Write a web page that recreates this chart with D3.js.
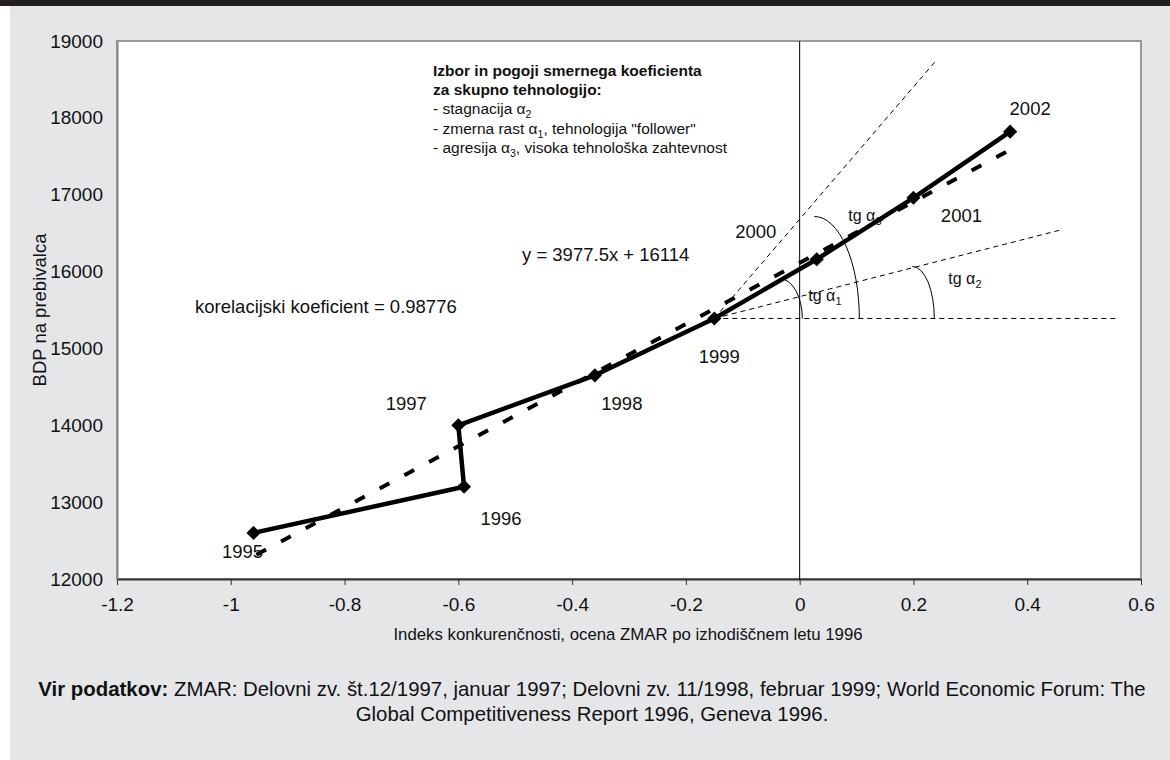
<!DOCTYPE html>
<html lang="sl">
<head>
<meta charset="UTF-8">
<title>BDP na prebivalca in indeks konkurenčnosti</title>
<script src="https://d3js.org/d3.v7.min.js"></script>
<style>
  body { margin: 0; background: #fff; font-family: "Liberation Sans", Arial, sans-serif; }
  svg { display: block; font-family: "Liberation Sans", Arial, sans-serif; }
  .axis text { font-family: "Liberation Sans", Arial, sans-serif; font-size: 19px; fill: #111; }
  .lbl { font-size: 18.5px; fill: #111; }
  .note { font-size: 15.5px; fill: #111; }
  .tg { font-size: 16px; fill: #111; }
</style>
</head>
<body>
<svg id="chart" width="1170" height="760"></svg>
<script>
// data
const years = [1995, 1996, 1997, 1998, 1999, 2000, 2001, 2002];
const indexValues = [-0.96, -0.59, -0.60, -0.36, -0.15, 0.03, 0.20, 0.37];
const gdpValues = [12600, 13200, 14000, 14650, 15390, 16160, 16960, 17820];
const xTicks = [-1.2, -1, -0.8, -0.6, -0.4, -0.2, 0, 0.2, 0.4, 0.6];
const yTicks = [12000, 13000, 14000, 15000, 16000, 17000, 18000, 19000];
const trendSlope = 3977.5, trendIntercept = 16114;
const trendRange = [-0.955, 0.375];
// guide lines from 1999: end points in data units
const guideEnds = [[0.56, 15390], [0.458, 16540], [0.238, 18730]];

const points = years.map((yr, i) => ({ year: yr, x: indexValues[i], y: gdpValues[i] }));

const svg = d3.select("#chart");
const W = 1170, H = 760;

// page background
svg.append("rect").attr("width", W).attr("height", H).attr("fill", "#fff");
svg.append("rect").attr("x", 10).attr("y", 0).attr("width", W - 10).attr("height", H).attr("fill", "#e5e6e8");
svg.append("rect").attr("x", 0).attr("y", 0).attr("width", W).attr("height", 6).attr("fill", "#231f20");

const x = d3.scaleLinear().domain([-1.2, 0.6]).range([117, 1141]);
const y = d3.scaleLinear().domain([12000, 19000]).range([579, 41]);

// plot area
svg.append("rect")
  .attr("x", x(-1.2)).attr("y", y(19000))
  .attr("width", x(0.6) - x(-1.2)).attr("height", y(12000) - y(19000))
  .attr("fill", "#fff").attr("stroke", "#9a9a9a").attr("stroke-width", 2);

// axes
const xAxis = svg.append("g").attr("class", "axis")
  .attr("transform", `translate(0,${y(12000)})`)
  .call(d3.axisBottom(x).tickValues(xTicks).tickFormat(d => String(d)).tickSize(6).tickPadding(13).tickSizeOuter(0));
xAxis.select(".domain").attr("stroke", "#333").attr("stroke-width", 2);
xAxis.selectAll(".tick line").attr("stroke", "#333");

const yAxis = svg.append("g").attr("class", "axis")
  .attr("transform", `translate(${x(-1.2)},0)`)
  .call(d3.axisLeft(y).tickValues(yTicks).tickFormat(d => String(d)).tickSize(0).tickPadding(14));
yAxis.select(".domain").attr("stroke", "#888").attr("stroke-width", 2);

// zero line
svg.append("line")
  .attr("x1", x(0)).attr("x2", x(0)).attr("y1", y(19000)).attr("y2", y(12000))
  .attr("stroke", "#000").attr("stroke-width", 1);

// axis titles
svg.append("text").attr("class", "lbl")
  .attr("transform", `translate(46,310) rotate(-90)`)
  .attr("text-anchor", "middle").text("BDP na prebivalca");
svg.append("text").attr("class", "lbl")
  .attr("x", 628).attr("y", 640).attr("text-anchor", "middle")
  .style("font-size", "16.8px")
  .text("Indeks konkurenčnosti, ocena ZMAR po izhodiščnem letu 1996");

// guide lines from 1999
const p99 = points[4];
const g = svg.append("g");
guideEnds.forEach(e => {
  g.append("line")
    .attr("x1", x(p99.x)).attr("y1", y(p99.y))
    .attr("x2", x(e[0])).attr("y2", y(e[1]))
    .attr("stroke", "#000").attr("stroke-width", 1).attr("stroke-dasharray", "5,4");
});

// angle arcs (quarter ellipses: offset of centre from 1999, rx, ry)
const arcs = [[65, 23, 40], [100, 45, 102], [198, 22, 52]];
arcs.forEach(a => {
  const cx = x(p99.x) + a[0], cy = y(p99.y);
  g.append("path")
    .attr("d", `M${cx},${cy - a[2]} A${a[1]},${a[2]} 0 0 1 ${cx + a[1]},${cy}`)
    .attr("fill", "none").attr("stroke", "#000").attr("stroke-width", 1);
});

// trend line
const trend = trendRange.map(v => ({ x: v, y: trendSlope * v + trendIntercept }));
svg.append("path")
  .datum(trend)
  .attr("d", d3.line().x(d => x(d.x)).y(d => y(d.y)))
  .attr("fill", "none").attr("stroke", "#000").attr("stroke-width", 4)
  .attr("stroke-dasharray", "11,17");

// data line
svg.append("path")
  .datum(points)
  .attr("d", d3.line().x(d => x(d.x)).y(d => y(d.y)))
  .attr("fill", "none").attr("stroke", "#000").attr("stroke-width", 4.5)
  .attr("stroke-linejoin", "round");

svg.selectAll(".mk").data(points).enter().append("path")
  .attr("class", "mk")
  .attr("transform", d => `translate(${x(d.x)},${y(d.y)}) rotate(45)`)
  .attr("d", d3.symbol(d3.symbolSquare, 100))
  .attr("fill", "#000");

// year labels
const labelOffset = {
  1995: [-11, 25], 1996: [37, 38], 1997: [-52, -15], 1998: [27, 35],
  1999: [5, 45], 2000: [-61, -21], 2001: [48, 24], 2002: [20, -17]
};
svg.selectAll(".yr").data(points).enter().append("text")
  .attr("class", "lbl")
  .attr("x", d => x(d.x) + labelOffset[d.year][0])
  .attr("y", d => y(d.y) + labelOffset[d.year][1])
  .attr("text-anchor", "middle")
  .text(d => d.year);

// tg alpha labels
function tgLabel(px, py, sub) {
  const t = svg.append("text").attr("class", "tg").attr("x", px).attr("y", py);
  t.append("tspan").text("tg α");
  t.append("tspan").attr("font-size", "11px").attr("dy", 4).text(sub);
}
tgLabel(x(p99.x) + 94, y(p99.y) - 17, "1");
tgLabel(x(p99.x) + 134, y(p99.y) - 97, "3");
tgLabel(x(p99.x) + 234, y(p99.y) - 34, "2");

// equation and correlation
svg.append("text").attr("class", "lbl").attr("x", 522).attr("y", 261)
  .text(`y = ${trendSlope}x + ${trendIntercept}`);
svg.append("text").attr("class", "lbl").attr("x", 195).attr("y", 313)
  .text("korelacijski koeficient = 0.98776");

// note box
const noteLines = [
  { t: "Izbor in pogoji smernega koeficienta", b: true },
  { t: "za skupno tehnologijo:", b: true },
  { t: "- stagnacija α", sub: "2", rest: "" },
  { t: "- zmerna rast  α", sub: "1", rest: ", tehnologija \"follower\"" },
  { t: "- agresija α", sub: "3", rest: ", visoka tehnološka zahtevnost" }
];
noteLines.forEach((l, i) => {
  const t = svg.append("text").attr("class", "note")
    .attr("x", 433).attr("y", 76 + i * 19.2)
    .attr("font-weight", l.b ? "bold" : null);
  t.append("tspan").text(l.t);
  if (l.sub) {
    t.append("tspan").attr("font-size", "10.5px").attr("dy", 4).text(l.sub);
    t.append("tspan").attr("dy", -4).text(l.rest);
  }
});

// source
const src = svg.append("text").attr("x", 592).attr("y", 696)
  .attr("text-anchor", "middle").attr("font-size", "20.4px").attr("fill", "#111");
src.append("tspan").attr("font-weight", "bold").text("Vir podatkov:");
src.append("tspan").text(" ZMAR: Delovni zv. št.12/1997, januar 1997; Delovni zv. 11/1998, februar 1999; World Economic Forum: The");
svg.append("text").attr("x", 592).attr("y", 721)
  .attr("text-anchor", "middle").attr("font-size", "20.4px").attr("fill", "#111")
  .text("Global Competitiveness Report 1996, Geneva 1996.");
</script>
</body>
</html>
